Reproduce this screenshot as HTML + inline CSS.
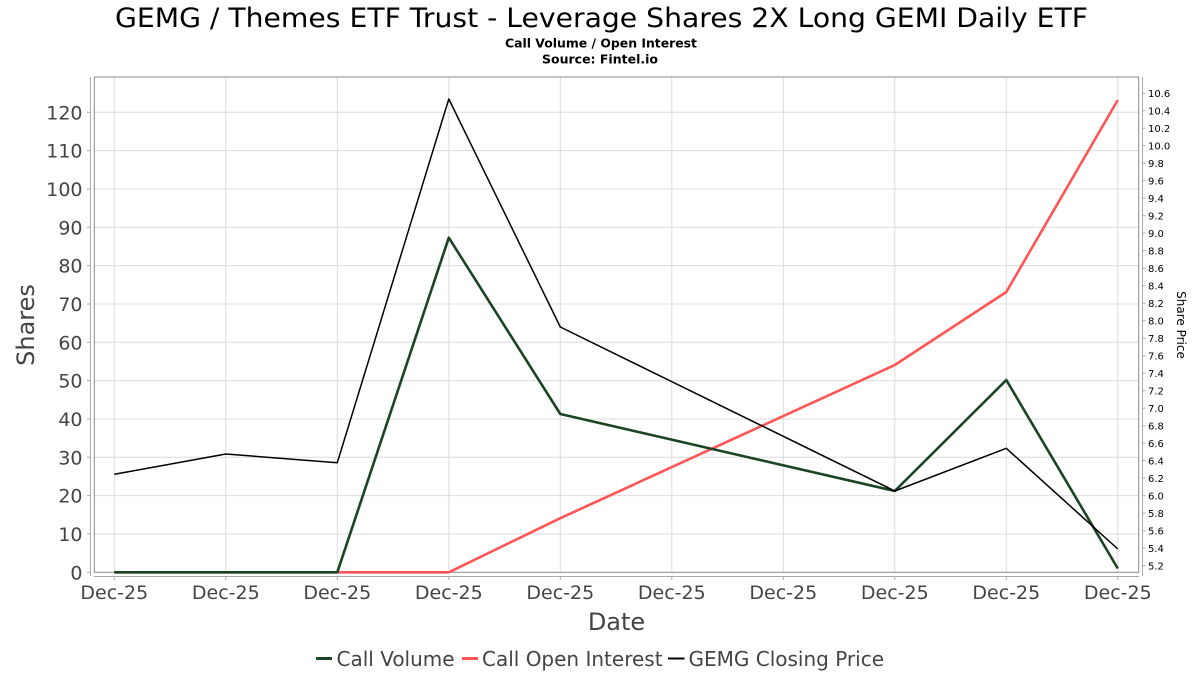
<!DOCTYPE html>
<html><head><meta charset="utf-8"><style>
html,body{margin:0;padding:0;background:#fff;}
svg{display:block;}
text{font-family:"DejaVu Sans","Liberation Sans",sans-serif;}
</style></head><body>
<svg width="1200" height="675" viewBox="0 0 1200 675" xmlns="http://www.w3.org/2000/svg">
<rect width="1200" height="675" fill="#fff"/>
<text x="601.5" y="27" font-size="27" text-anchor="middle" fill="#000" textLength="973" lengthAdjust="spacingAndGlyphs">GEMG / Themes ETF Trust - Leverage Shares 2X Long GEMI Daily ETF</text>
<text x="601" y="47.5" font-size="12.5" font-weight="bold" text-anchor="middle" fill="#000" textLength="192" lengthAdjust="spacingAndGlyphs">Call Volume / Open Interest</text>
<text x="600" y="63.5" font-size="12.5" font-weight="bold" text-anchor="middle" fill="#000">Source: Fintel.io</text>

<!-- grid -->
<g stroke="#dcdcdc" stroke-width="1">
<line x1="94.3" x2="1138.7" y1="112.3" y2="112.3"/>
<line x1="94.3" x2="1138.7" y1="150.6" y2="150.6"/>
<line x1="94.3" x2="1138.7" y1="189.0" y2="189.0"/>
<line x1="94.3" x2="1138.7" y1="227.3" y2="227.3"/>
<line x1="94.3" x2="1138.7" y1="265.6" y2="265.6"/>
<line x1="94.3" x2="1138.7" y1="304.0" y2="304.0"/>
<line x1="94.3" x2="1138.7" y1="342.3" y2="342.3"/>
<line x1="94.3" x2="1138.7" y1="380.6" y2="380.6"/>
<line x1="94.3" x2="1138.7" y1="419.0" y2="419.0"/>
<line x1="94.3" x2="1138.7" y1="457.3" y2="457.3"/>
<line x1="94.3" x2="1138.7" y1="495.6" y2="495.6"/>
<line x1="94.3" x2="1138.7" y1="534.0" y2="534.0"/>
<line x1="114.3" x2="114.3" y1="77" y2="572"/>
<line x1="225.8" x2="225.8" y1="77" y2="572"/>
<line x1="337.3" x2="337.3" y1="77" y2="572"/>
<line x1="448.8" x2="448.8" y1="77" y2="572"/>
<line x1="560.3" x2="560.3" y1="77" y2="572"/>
<line x1="671.8" x2="671.8" y1="77" y2="572"/>
<line x1="783.3" x2="783.3" y1="77" y2="572"/>
<line x1="894.8" x2="894.8" y1="77" y2="572"/>
<line x1="1006.3" x2="1006.3" y1="77" y2="572"/>
<line x1="1117.8" x2="1117.8" y1="77" y2="572"/>
</g>
<!-- plot frame -->
<rect x="94.3" y="77" width="1044.4" height="495.3" fill="none" stroke="#888" stroke-width="1"/>
<!-- offset axes -->
<g stroke="#aaa" stroke-width="1">
<line x1="90.5" x2="90.5" y1="77" y2="576"/>
<line x1="94" x2="1139" y1="576.5" y2="576.5"/>
<line x1="1142.5" x2="1142.5" y1="77" y2="576"/>
</g>
<g stroke="#aaa" stroke-width="1">
<line x1="87" x2="90.5" y1="112.3" y2="112.3"/>
<line x1="87" x2="90.5" y1="150.6" y2="150.6"/>
<line x1="87" x2="90.5" y1="189.0" y2="189.0"/>
<line x1="87" x2="90.5" y1="227.3" y2="227.3"/>
<line x1="87" x2="90.5" y1="265.6" y2="265.6"/>
<line x1="87" x2="90.5" y1="304.0" y2="304.0"/>
<line x1="87" x2="90.5" y1="342.3" y2="342.3"/>
<line x1="87" x2="90.5" y1="380.6" y2="380.6"/>
<line x1="87" x2="90.5" y1="419.0" y2="419.0"/>
<line x1="87" x2="90.5" y1="457.3" y2="457.3"/>
<line x1="87" x2="90.5" y1="495.6" y2="495.6"/>
<line x1="87" x2="90.5" y1="534.0" y2="534.0"/>
<line x1="87" x2="90.5" y1="572.3" y2="572.3"/>
<line x1="114.3" x2="114.3" y1="576.5" y2="580"/>
<line x1="225.8" x2="225.8" y1="576.5" y2="580"/>
<line x1="337.3" x2="337.3" y1="576.5" y2="580"/>
<line x1="448.8" x2="448.8" y1="576.5" y2="580"/>
<line x1="560.3" x2="560.3" y1="576.5" y2="580"/>
<line x1="671.8" x2="671.8" y1="576.5" y2="580"/>
<line x1="783.3" x2="783.3" y1="576.5" y2="580"/>
<line x1="894.8" x2="894.8" y1="576.5" y2="580"/>
<line x1="1006.3" x2="1006.3" y1="576.5" y2="580"/>
<line x1="1117.8" x2="1117.8" y1="576.5" y2="580"/>
</g>
<!-- left tick labels -->
<g font-size="19" fill="#444" text-anchor="end">
<text x="82.5" y="119.3">120</text>
<text x="82.5" y="157.6">110</text>
<text x="82.5" y="196.0">100</text>
<text x="82.5" y="234.3">90</text>
<text x="82.5" y="272.6">80</text>
<text x="82.5" y="311.0">70</text>
<text x="82.5" y="349.3">60</text>
<text x="82.5" y="387.6">50</text>
<text x="82.5" y="426.0">40</text>
<text x="82.5" y="464.3">30</text>
<text x="82.5" y="502.6">20</text>
<text x="82.5" y="541.0">10</text>
<text x="82.5" y="579.3">0</text>
</g>
<!-- x tick labels -->
<g font-size="19" fill="#444" text-anchor="middle">
<text x="114.3" y="599">Dec-25</text>
<text x="225.8" y="599">Dec-25</text>
<text x="337.3" y="599">Dec-25</text>
<text x="448.8" y="599">Dec-25</text>
<text x="560.3" y="599">Dec-25</text>
<text x="671.8" y="599">Dec-25</text>
<text x="783.3" y="599">Dec-25</text>
<text x="894.8" y="599">Dec-25</text>
<text x="1006.3" y="599">Dec-25</text>
<text x="1117.8" y="599">Dec-25</text>
</g>
<!-- right tick marks and labels -->
<g stroke="#aaa" stroke-width="1">
<line x1="1142.5" x2="1145.5" y1="565.7" y2="565.7"/><line x1="1142.5" x2="1145.5" y1="548.2" y2="548.2"/><line x1="1142.5" x2="1145.5" y1="530.7" y2="530.7"/><line x1="1142.5" x2="1145.5" y1="513.2" y2="513.2"/><line x1="1142.5" x2="1145.5" y1="495.7" y2="495.7"/><line x1="1142.5" x2="1145.5" y1="478.2" y2="478.2"/><line x1="1142.5" x2="1145.5" y1="460.7" y2="460.7"/><line x1="1142.5" x2="1145.5" y1="443.2" y2="443.2"/><line x1="1142.5" x2="1145.5" y1="425.7" y2="425.7"/><line x1="1142.5" x2="1145.5" y1="408.2" y2="408.2"/><line x1="1142.5" x2="1145.5" y1="390.7" y2="390.7"/><line x1="1142.5" x2="1145.5" y1="373.2" y2="373.2"/><line x1="1142.5" x2="1145.5" y1="355.7" y2="355.7"/><line x1="1142.5" x2="1145.5" y1="338.2" y2="338.2"/><line x1="1142.5" x2="1145.5" y1="320.7" y2="320.7"/><line x1="1142.5" x2="1145.5" y1="303.2" y2="303.2"/><line x1="1142.5" x2="1145.5" y1="285.7" y2="285.7"/><line x1="1142.5" x2="1145.5" y1="268.2" y2="268.2"/><line x1="1142.5" x2="1145.5" y1="250.7" y2="250.7"/><line x1="1142.5" x2="1145.5" y1="233.2" y2="233.2"/><line x1="1142.5" x2="1145.5" y1="215.7" y2="215.7"/><line x1="1142.5" x2="1145.5" y1="198.2" y2="198.2"/><line x1="1142.5" x2="1145.5" y1="180.7" y2="180.7"/><line x1="1142.5" x2="1145.5" y1="163.2" y2="163.2"/><line x1="1142.5" x2="1145.5" y1="145.7" y2="145.7"/><line x1="1142.5" x2="1145.5" y1="128.2" y2="128.2"/><line x1="1142.5" x2="1145.5" y1="110.7" y2="110.7"/><line x1="1142.5" x2="1145.5" y1="93.2" y2="93.2"/>
</g>
<g font-size="10" fill="#000">
<text x="1148" y="569.3">5.2</text><text x="1148" y="551.8">5.4</text><text x="1148" y="534.3">5.6</text><text x="1148" y="516.8">5.8</text><text x="1148" y="499.3">6.0</text><text x="1148" y="481.8">6.2</text><text x="1148" y="464.3">6.4</text><text x="1148" y="446.8">6.6</text><text x="1148" y="429.3">6.8</text><text x="1148" y="411.8">7.0</text><text x="1148" y="394.3">7.2</text><text x="1148" y="376.8">7.4</text><text x="1148" y="359.3">7.6</text><text x="1148" y="341.8">7.8</text><text x="1148" y="324.3">8.0</text><text x="1148" y="306.8">8.2</text><text x="1148" y="289.3">8.4</text><text x="1148" y="271.8">8.6</text><text x="1148" y="254.3">8.8</text><text x="1148" y="236.8">9.0</text><text x="1148" y="219.3">9.2</text><text x="1148" y="201.8">9.4</text><text x="1148" y="184.3">9.6</text><text x="1148" y="166.8">9.8</text><text x="1148" y="149.3">10.0</text><text x="1148" y="131.8">10.2</text><text x="1148" y="114.3">10.4</text><text x="1148" y="96.8">10.6</text>
</g>
<!-- axis titles -->
<text transform="translate(34,325) rotate(-90)" font-size="24" fill="#444" text-anchor="middle">Shares</text>
<text transform="translate(1177,325) rotate(90)" font-size="12" fill="#000" text-anchor="middle">Share Price</text>
<text x="616.5" y="630" font-size="24" fill="#444" text-anchor="middle">Date</text>

<!-- series -->
<polyline fill="none" stroke="#ff5555" stroke-width="2.6" stroke-linejoin="round" points="114.3,572.3 225.8,572.3 337.3,572.3 448.8,572.3 560.3,518.2 894.8,365 1006.3,292 1117.8,100"/>
<polyline fill="none" stroke="#1b4423" stroke-width="2.6" stroke-linejoin="round" points="114.3,572.3 225.8,572.3 337.3,572.3 448.8,237.7 560.3,414 894.8,491 1006.3,380 1117.8,568.5"/>
<polyline fill="none" stroke="#000" stroke-width="1.5" stroke-linejoin="round" points="114.3,474.3 225.8,454 337.3,462.7 448.8,99 560.3,327 894.8,491 1006.3,448.3 1117.8,549"/>

<!-- legend -->
<line x1="316" x2="332" y1="658.5" y2="658.5" stroke="#1b4423" stroke-width="3"/>
<text x="336.5" y="666" font-size="20" fill="#444">Call Volume</text>
<line x1="462" x2="478" y1="658.5" y2="658.5" stroke="#ff5555" stroke-width="3"/>
<text x="482" y="666" font-size="20" fill="#444">Call Open Interest</text>
<line x1="668" x2="684.5" y1="658.5" y2="658.5" stroke="#000" stroke-width="2"/>
<text x="688.5" y="666" font-size="20" fill="#444">GEMG Closing Price</text>
</svg>
</body></html>
